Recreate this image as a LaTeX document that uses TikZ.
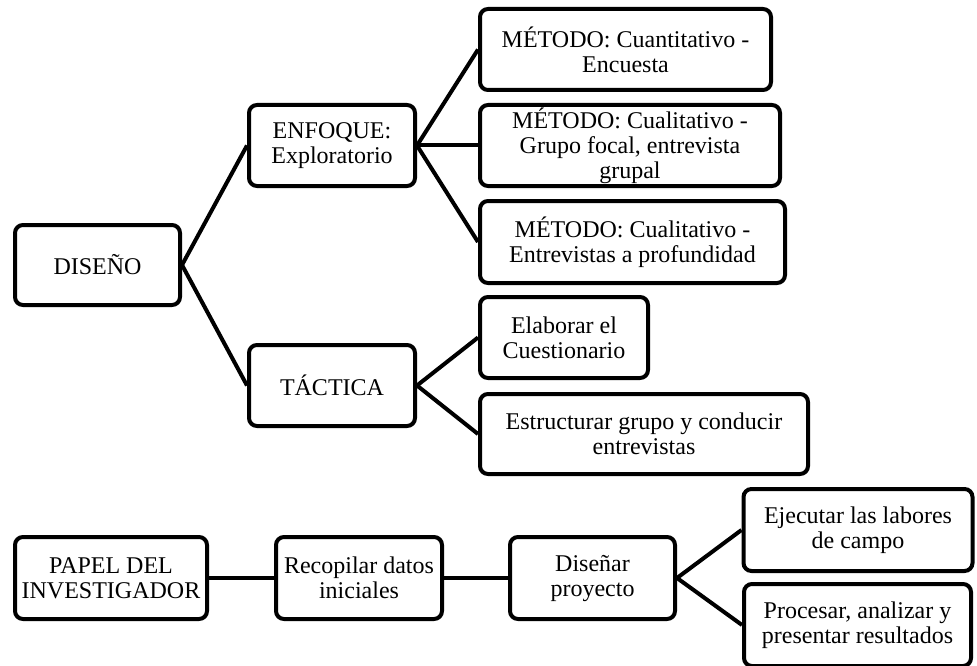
\documentclass[tikz,border=0pt]{standalone}
\usepackage{fontspec}
\setmainfont{Liberation Serif}
\usetikzlibrary{positioning}

\begin{document}
\begin{tikzpicture}[
  x=1pt, y=-1pt,
  box/.style={
    rectangle, draw, line width=4pt, rounded corners=8pt,
    align=center, inner sep=2pt,
    font=\fontsize{24}{25}\selectfont
  },
  link/.style={line width=4pt}
]
\useasboundingbox (0,0) rectangle (977,666);

% Nodes
\node[box, minimum width=165pt, minimum height=80pt] (Diseno) at (97.5,265) {DISEÑO};
\node[box, minimum width=166pt, minimum height=81pt] (Enfoque) at (332,145.5) {ENFOQUE:\\Exploratorio};
\node[box, minimum width=166pt, minimum height=81pt] (Tactica) at (332,385.5) {TÁCTICA};

\node[box, minimum width=291pt, minimum height=81pt] (Metodo_1) at (625.5,49.5) {MÉTODO: Cuantitativo -\\Encuesta};
\node[box, minimum width=300pt, minimum height=81pt] (Metodo_2) at (630,145.5) {MÉTODO: Cualitativo -\\Grupo focal, entrevista\\grupal};
\node[box, minimum width=305pt, minimum height=82pt] (Metodo_3) at (632.5,242) {MÉTODO: Cualitativo -\\Entrevistas a profundidad};

\node[box, minimum width=168pt, minimum height=81pt] (Elaborar) at (564,337.5) {Elaborar el\\Cuestionario};
\node[box, minimum width=328pt, minimum height=80pt] (Estructurar) at (644,434) {Estructurar grupo y conducir\\entrevistas};

\node[box, minimum width=192pt, minimum height=82pt] (Papel) at (111,578) {PAPEL DEL\\INVESTIGADOR};
\node[box, minimum width=166pt, minimum height=82pt] (Recopilar) at (359,578) {Recopilar datos\\iniciales};
\node[box, minimum width=165pt, minimum height=82pt] (Disenar) at (592.5,578) {Diseñar\\proyecto};
\node[box, minimum width=229pt, minimum height=82pt] (Ejecutar) at (858,530) {Ejecutar las labores\\de campo};
\node[box, minimum width=227pt, minimum height=82pt] (Procesar) at (857.5,625) {Procesar, analizar y\\presentar resultados};

% Edges
\draw[link] (Diseno.east) -- (Enfoque.west);
\draw[link] (Diseno.east) -- (Tactica.west);
\draw[link] (Enfoque.east) -- (Metodo_1.west);
\draw[link] (Enfoque.east) -- (Metodo_2.west);
\draw[link] (Enfoque.east) -- (Metodo_3.west);
\draw[link] (Tactica.east) -- (Elaborar.west);
\draw[link] (Tactica.east) -- (Estructurar.west);
\draw[link] (Papel.east) -- (Recopilar.west);
\draw[link] (Recopilar.east) -- (Disenar.west);
\draw[link] (Disenar.east) -- (Ejecutar.west);
\draw[link] (Disenar.east) -- (Procesar.west);

\end{tikzpicture}
\end{document}
